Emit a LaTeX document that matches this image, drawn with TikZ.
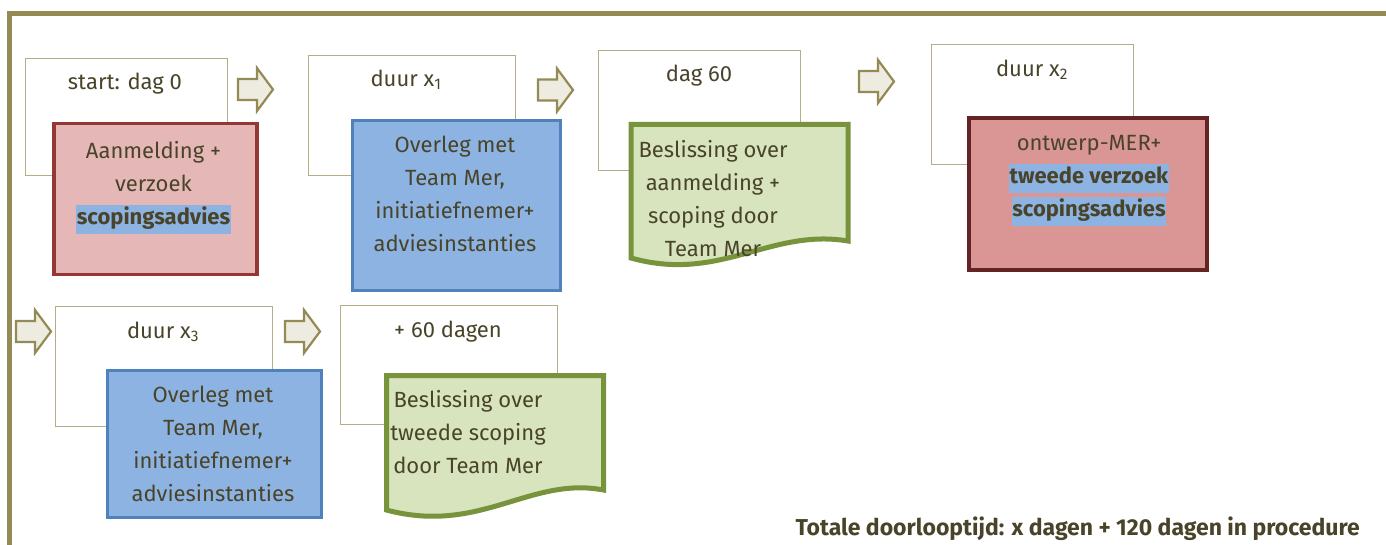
\documentclass[tikz,border=0pt]{standalone}
\usepackage{fontspec}
\setmainfont{Fira Sans}
\definecolor{frameol}{HTML}{948A54}
\definecolor{boxline}{HTML}{B5AD85}
\definecolor{txtc}{HTML}{494429}
\definecolor{redfill}{HTML}{E5B8B7}
\definecolor{redline}{HTML}{953735}
\definecolor{red2fill}{HTML}{D99694}
\definecolor{red2line}{HTML}{632423}
\definecolor{bluefill}{HTML}{8DB3E2}
\definecolor{blueline}{HTML}{4F81BD}
\definecolor{greenfill}{HTML}{D7E4BD}
\definecolor{greenline}{HTML}{77933C}
\definecolor{arrowfill}{HTML}{EEECE1}
\definecolor{hlblue}{HTML}{8DB3E2}
\newcommand\hlt[1]{{\setlength{\fboxsep}{0.5pt}\colorbox{hlblue}{\rule[-9pt]{0pt}{28pt}#1}}}
\begin{document}
\begin{tikzpicture}[x=1pt,y=-1pt,
  whitebox/.style={draw=boxline, line width=1.2pt, fill=white, anchor=north west, inner sep=0pt},
  redbox/.style={draw=redline, line width=3.5pt, fill=redfill, anchor=north west, inner sep=0pt},
  red2box/.style={draw=red2line, line width=4pt, fill=red2fill, anchor=north west, inner sep=0pt},
  bluebox/.style={draw=blueline, line width=3pt, fill=bluefill, anchor=north west, inner sep=0pt},
  greendoc/.style={draw=greenline, line width=5pt, fill=greenfill, line join=miter},
  txt/.style={text=txtc, font=\fontsize{22}{33}\selectfont, align=center, inner sep=0pt},
  blockarrow/.pic={\draw[draw=frameol, line width=2.2pt, fill=arrowfill, line join=miter]
     (0,-10.5) -- (19,-10.5) -- (19,-21.5) -- (35,0) -- (19,21.5) -- (19,10.5) -- (0,10.5) -- cycle;}
]
\useasboundingbox (0,0) rectangle (1386,545);
% frame
\draw[frameol, line width=5pt] (9.5,545) -- (9.5,13.5) -- (1386,13.5);

% ---- step 1
\node[whitebox, minimum width=202, minimum height=117] (w1) at (25,58) {};
\node[txt] (l1) at (125,84) {start: dag 0};
\node[redbox, minimum width=203, minimum height=151] (b1) at (52,122) {};
\node[txt] (t1) at (153.5,188) {Aanmelding +\\verzoek\\\hlt{\textbf{scopingsadvies}}};
\pic (a1) at (238,89.5) {blockarrow};

% ---- step 2
\node[whitebox, minimum width=207, minimum height=120] (w2) at (308,55) {};
\node[txt] (l2) at (406,80) {duur x\textsubscript{1}};
\node[bluebox, minimum width=208, minimum height=170] (b2) at (351,119) {};
\node[txt] (t2) at (455,194) {Overleg met\\Team Mer,\\initiatiefnemer+\\adviesinstanties};
\pic (a2) at (538,90) {blockarrow};

% ---- step 3
\node[whitebox, minimum width=202, minimum height=120] (w3) at (598,50) {};
\node[txt] (l3) at (699,76) {dag 60};
\coordinate (d1) at (631,124.5);
\draw[greendoc] (d1) -- (848,124.5) -- (848,241) .. controls (770,228) and (720,283) .. (631,258) -- cycle;
\node[txt] (t3) at (713,199) {Beslissing over\\aanmelding +\\scoping door\\Team Mer};
\pic (a3) at (859,81.5) {blockarrow};

% ---- step 4
\node[whitebox, minimum width=202, minimum height=120] (w4) at (931,44) {};
\node[txt] (l4) at (1032,70) {duur x\textsubscript{2}};
\node[red2box, minimum width=238, minimum height=152] (b4) at (967,116) {};
\node[txt] (t4) at (1089,181) {ontwerp-MER+\\\hlt{\textbf{tweede verzoek}}\\\hlt{\textbf{scopingsadvies}}};

% ---- row 2
\pic (a4) at (16,331.5) {blockarrow};
\node[whitebox, minimum width=217, minimum height=120] (w5) at (55,306) {};
\node[txt] (l5) at (163,332) {duur x\textsubscript{3}};
\node[bluebox, minimum width=214, minimum height=147] (b5) at (106,369) {};
\node[txt] (t5) at (213,444) {Overleg met\\Team Mer,\\initiatiefnemer+\\adviesinstanties};
\pic (a5) at (285,331.5) {blockarrow};

\node[whitebox, minimum width=217, minimum height=119] (w6) at (340,305) {};
\node[txt] (l6) at (448,332) {+ 60 dagen};
\coordinate (d2) at (386.5,375.5);
\draw[greendoc] (d2) -- (603.5,375.5) -- (603.5,490) .. controls (530,476) and (480,535) .. (386.5,510) -- cycle;
\node[txt] (t6) at (468,432) {Beslissing over\\tweede scoping\\door Team Mer};

% total
\node[text=txtc, font=\fontsize{23}{27}\selectfont\bfseries, anchor=base east, inner sep=0pt] (tot) at (1360,535) {Totale doorlooptijd: x dagen + 120 dagen in procedure};
\end{tikzpicture}
\end{document}
